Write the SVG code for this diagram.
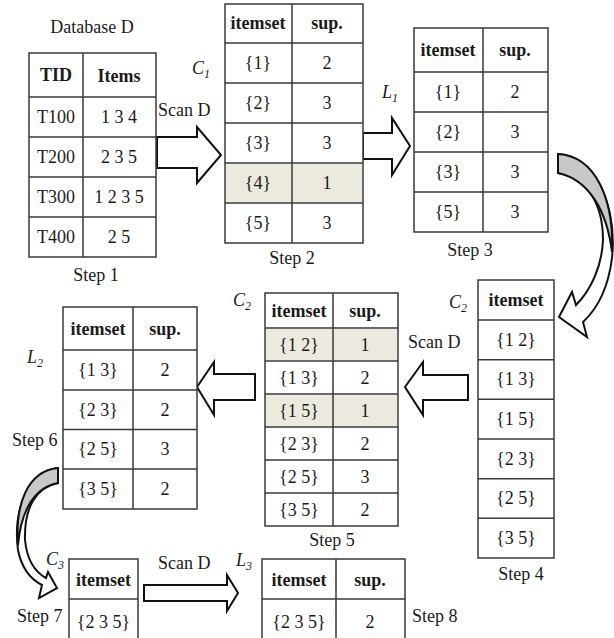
<svg xmlns="http://www.w3.org/2000/svg" width="614" height="638" viewBox="0 0 614 638">
<style>
.tb{fill:#fff;stroke:#3a3a3a;stroke-width:1.5}
.ln{stroke:#3a3a3a;stroke-width:1.5;fill:none}
.hl{fill:#ECEADF;stroke:none}
text{font-family:"Liberation Serif","Times New Roman",serif;font-size:18px;fill:#1a1a1a;text-anchor:middle}
.h{font-weight:bold}
.s{text-anchor:start}
.i{font-style:italic}
.blk{fill:#fff;stroke:#111;stroke-width:2;stroke-linejoin:miter}
.gr{fill:#c8c8c8;stroke:#111;stroke-width:2}
.wt{fill:#fff;stroke:#111;stroke-width:2}
</style>

<g id="connectors">
  <polygon class="blk" points="157,137 197,137 197,127 221,155 197,183 197,168 157,168"/>
  <polygon class="blk" points="363,133 392,133 392,118 410,146 392,175 392,159 363,159"/>
  <path class="wt" d="M558,154 C596,156 617,208 612,258 C608,290 596,310 583,322 L587,337 L559,317 L572,292 L576,305 C591,290 602,266 603,240 C603,205 588,178 558,173 Z"/>
  <path class="gr" d="M558,154 C596,156 614,200 612,252 C607,212 590,180 558,173 Z"/>
  <polygon class="blk" points="468,375 423,375 423,362 405,387 423,415 423,400 468,400"/>
  <polygon class="blk" points="255,374 214,374 214,362 197,387 214,415 214,400 255,400"/>
  <path class="wt" d="M58,468 C27,471 13,512 18,550 C22,570 32,580 42,585 L39,598 L57,588 L48,572 L46,578 C35,572 27,560 25,540 C24,508 36,487 58,483 Z"/>
  <path class="gr" d="M58,468 C27,471 15,505 18,545 C21,510 35,487 58,483 Z"/>
  <polygon class="blk" points="144,585 227,585 227,575 238,593 227,611 227,601 144,601"/>
  <text class="s" x="158" y="116">Scan D</text>
  <text class="s" x="408" y="348">Scan D</text>
  <text class="s" x="158" y="569">Scan D</text>
</g>

<g id="step1">
  <text x="92" y="33">Database D</text>
  <rect class="tb" x="29" y="53" width="127" height="204"/>
  <path class="ln" d="M83,53V257M29,97H156M29,137H156M29,177H156M29,217H156"/>
  <text class="h" x="56" y="81">TID</text>
  <text class="h" x="119" y="82">Items</text>
  <text x="56" y="123">T100</text><text x="119" y="123">1 3 4</text>
  <text x="56" y="163">T200</text><text x="119" y="163">2 3 5</text>
  <text x="56" y="203">T300</text><text x="119" y="203">1 2 3 5</text>
  <text x="56" y="243">T400</text><text x="119" y="243">2 5</text>
  <text x="96" y="281">Step 1</text>
</g>

<g id="step2">
  <text class="s i" x="192" y="74">C<tspan font-size="12" dy="4">1</tspan></text>
  <rect class="tb" x="225" y="4" width="138" height="239"/>
  <rect class="hl" x="226" y="164" width="136" height="38"/>
  <path class="ln" d="M292,4V243M225,43H363M225,83H363M225,123H363M225,163H363M225,203H363"/>
  <text class="h" x="258" y="29">itemset</text><text class="h" x="327" y="29">sup.</text>
  <text x="258" y="69">{1}</text><text x="327" y="69">2</text>
  <text x="258" y="109">{2}</text><text x="327" y="109">3</text>
  <text x="258" y="149">{3}</text><text x="327" y="149">3</text>
  <text x="258" y="189">{4}</text><text x="327" y="189">1</text>
  <text x="258" y="229">{5}</text><text x="327" y="229">3</text>
  <text x="292" y="264">Step 2</text>
</g>

<g id="step3">
  <text class="s i" x="382" y="98">L<tspan font-size="12" dy="4">1</tspan></text>
  <rect class="tb" x="414" y="28" width="134" height="204"/>
  <path class="ln" d="M483,28V232M414,72H548M414,112H548M414,152H548M414,192H548"/>
  <text class="h" x="448" y="56">itemset</text><text class="h" x="515" y="56">sup.</text>
  <text x="448" y="98">{1}</text><text x="515" y="98">2</text>
  <text x="448" y="138">{2}</text><text x="515" y="138">3</text>
  <text x="448" y="178">{3}</text><text x="515" y="178">3</text>
  <text x="448" y="218">{5}</text><text x="515" y="218">3</text>
  <text x="470" y="256">Step 3</text>
</g>

<g id="step4">
  <text class="s i" x="449" y="308">C<tspan font-size="12" dy="4">2</tspan></text>
  <rect class="tb" x="478" y="280" width="76" height="278"/>
  <path class="ln" d="M478,320H554M478,359.7H554M478,399.3H554M478,439H554M478,478.7H554M478,518.3H554"/>
  <text class="h" x="516" y="306">itemset</text>
  <text x="516" y="346">{1 2}</text>
  <text x="516" y="385">{1 3}</text>
  <text x="516" y="425">{1 5}</text>
  <text x="516" y="465">{2 3}</text>
  <text x="516" y="504">{2 5}</text>
  <text x="516" y="544">{3 5}</text>
  <text x="521" y="580">Step 4</text>
</g>

<g id="step5">
  <text class="s i" x="233" y="306">C<tspan font-size="12" dy="4">2</tspan></text>
  <rect class="tb" x="265" y="293" width="133" height="233"/>
  <rect class="hl" x="266" y="329" width="131" height="31"/>
  <rect class="hl" x="266" y="395" width="131" height="31"/>
  <path class="ln" d="M333,293V526M265,328H398M265,361H398M265,394H398M265,427H398M265,460H398M265,493H398"/>
  <text class="h" x="299" y="317">itemset</text><text class="h" x="365" y="317">sup.</text>
  <text x="299" y="351">{1 2}</text><text x="365" y="351">1</text>
  <text x="299" y="384">{1 3}</text><text x="365" y="384">2</text>
  <text x="299" y="417">{1 5}</text><text x="365" y="417">1</text>
  <text x="299" y="450">{2 3}</text><text x="365" y="450">2</text>
  <text x="299" y="483">{2 5}</text><text x="365" y="483">3</text>
  <text x="299" y="516">{3 5}</text><text x="365" y="516">2</text>
  <text x="332" y="546">Step 5</text>
</g>

<g id="step6">
  <text class="s i" x="27" y="363">L<tspan font-size="12" dy="4">2</tspan></text>
  <rect class="tb" x="63" y="307" width="134" height="202"/>
  <path class="ln" d="M133,307V509M63,350H197M63,390H197M63,429.5H197M63,469H197"/>
  <text class="h" x="98" y="335">itemset</text><text class="h" x="165" y="335">sup.</text>
  <text x="98" y="376">{1 3}</text><text x="165" y="376">2</text>
  <text x="98" y="416">{2 3}</text><text x="165" y="416">2</text>
  <text x="98" y="455">{2 5}</text><text x="165" y="455">3</text>
  <text x="98" y="495">{3 5}</text><text x="165" y="495">2</text>
  <text class="s" x="12" y="446">Step 6</text>
</g>

<g id="step7">
  <text class="s i" x="46" y="565">C<tspan font-size="12" dy="4">3</tspan></text>
  <rect class="tb" x="69" y="559" width="69" height="90"/>
  <path class="ln" d="M69,599H138"/>
  <text class="h" x="103.5" y="586">itemset</text>
  <text x="103.5" y="628">{2 3 5}</text>
  <text class="s" x="17" y="622">Step 7</text>
</g>

<g id="step8">
  <text class="s i" x="236" y="566">L<tspan font-size="12" dy="4">3</tspan></text>
  <rect class="tb" x="262" y="559" width="143" height="90"/>
  <path class="ln" d="M336,559V649M262,599H405"/>
  <text class="h" x="299" y="586">itemset</text><text class="h" x="370" y="586">sup.</text>
  <text x="299" y="628">{2 3 5}</text><text x="370" y="628">2</text>
  <text class="s" x="412" y="622">Step 8</text>
</g>
</svg>
